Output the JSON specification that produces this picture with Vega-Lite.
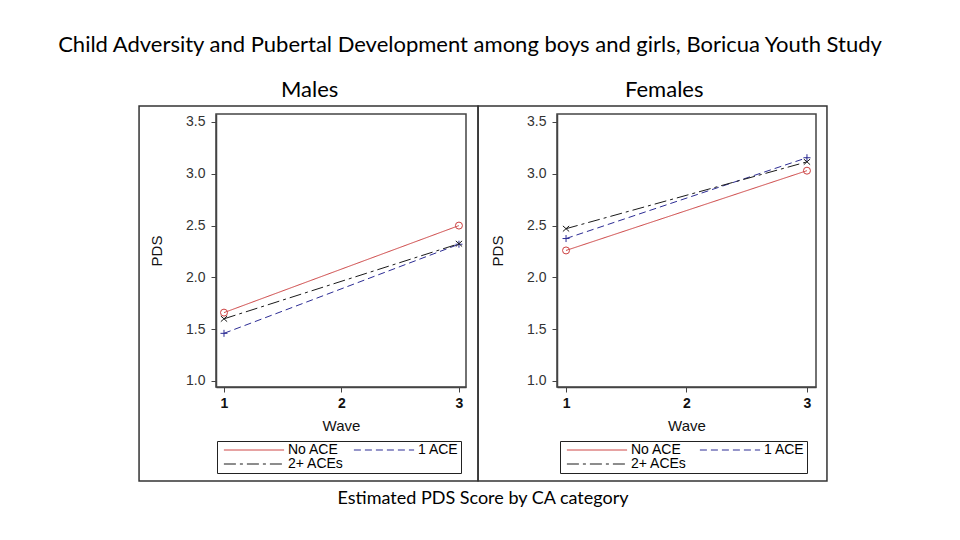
{
  "$schema": "https://vega.github.io/schema/vega-lite/v6.json",
  "background": "white",
  "padding": {"left": 57, "top": 33, "right": 5, "bottom": 5},
  "title": {"text": "Child Adversity and Pubertal Development among boys and girls, Boricua Youth Study", "anchor": "middle", "frame": "bounds", "dx": -13, "fontSize": 22, "offset": 22},
  "datasets": {
    "pds": [
      {"panel": "Males", "cat": "No ACE", "wave": 1, "pds": 1.66},
      {"panel": "Males", "cat": "No ACE", "wave": 3, "pds": 2.50},
      {"panel": "Males", "cat": "1 ACE", "wave": 1, "pds": 1.46},
      {"panel": "Males", "cat": "1 ACE", "wave": 3, "pds": 2.32},
      {"panel": "Males", "cat": "2+ ACEs", "wave": 1, "pds": 1.60},
      {"panel": "Males", "cat": "2+ ACEs", "wave": 3, "pds": 2.325},
      {"panel": "Females", "cat": "No ACE", "wave": 1, "pds": 2.26},
      {"panel": "Females", "cat": "No ACE", "wave": 3, "pds": 3.03},
      {"panel": "Females", "cat": "1 ACE", "wave": 1, "pds": 2.375},
      {"panel": "Females", "cat": "1 ACE", "wave": 3, "pds": 3.155},
      {"panel": "Females", "cat": "2+ ACEs", "wave": 1, "pds": 2.47},
      {"panel": "Females", "cat": "2+ ACEs", "wave": 3, "pds": 3.115}
    ]
  },
  "vconcat": [
    {
      "title": {"text": "Estimated PDS Score by CA category", "orient": "bottom", "anchor": "middle", "frame": "bounds", "fontSize": 18, "offset": 8},
      "bounds": "flush",
      "spacing": 91,
      "resolve": {"scale": {"color": "independent", "strokeDash": "independent"}, "legend": {"color": "independent", "strokeDash": "independent"}},
      "hconcat": [
        {
          "width": 250,
          "height": 273,
          "title": {"text": "Males", "anchor": "start", "frame": "group", "dx": 65, "offset": 3, "fontSize": 22},
          "data": {"name": "pds"},
          "transform": [{"filter": "datum.panel === 'Males'"}],
          "layer": [
            {
              "data": {"values": [{"panel": "Males"}]},
              "mark": {"type": "rect", "fill": "transparent", "stroke": "#333", "strokeWidth": 1.5},
              "encoding": {
                "x": {"datum": 0.277, "type": "quantitative", "title": "Wave"},
                "x2": {"datum": 3.162},
                "y": {"datum": 0.035, "type": "quantitative", "title": "PDS"},
                "y2": {"datum": 3.654}
              }
            },
            {
              "mark": {"type": "line", "strokeWidth": 1},
              "encoding": {
                "x": {"field": "wave", "type": "quantitative", "title": "Wave", "scale": {"domain": [0.932, 3.06], "nice": false, "zero": false}, "axis": {"values": [1, 2, 3], "format": "d"}},
                "y": {"field": "pds", "type": "quantitative", "title": "PDS", "scale": {"domain": [0.942, 3.577], "nice": false, "zero": false}, "axis": {"values": [1, 1.5, 2, 2.5, 3, 3.5], "format": ".1f"}},
                "color": {"field": "cat", "type": "nominal", "scale": {"domain": ["No ACE", "1 ACE", "2+ ACEs"], "range": ["#cc4040", "#2c2c94", "#1a1a1a"]},
                  "legend": {"orient": "none", "legendX": 1, "legendY": 327, "direction": "horizontal", "columns": 2, "title": null, "strokeColor": "#222", "fillColor": "#fff", "padding": 2, "rowPadding": 0, "columnPadding": 5, "symbolType": "M-8.6,0H8.6", "symbolSize": 49, "symbolOffset": 28, "labelOffset": 27, "labelFont": "Liberation Sans", "labelFontSize": 14, "labelColor": "#000", "symbolStrokeWidth": 1}},
                "strokeDash": {"field": "cat", "type": "nominal", "scale": {"domain": ["No ACE", "1 ACE", "2+ ACEs"], "range": [[1, 0], [7, 4], [12, 4, 3, 4]]},
                  "legend": {"orient": "none", "legendX": 1, "legendY": 327, "direction": "horizontal", "columns": 2, "title": null, "strokeColor": "#222", "fillColor": "#fff", "padding": 2, "rowPadding": 0, "columnPadding": 5, "symbolType": "M-8.6,0H8.6", "symbolSize": 49, "symbolOffset": 28, "labelOffset": 27, "labelFont": "Liberation Sans", "labelFontSize": 14, "labelColor": "#000", "symbolStrokeWidth": 1}}
              }
            },
            {
              "transform": [{"filter": "datum.cat === 'No ACE'"}],
              "mark": {"type": "point", "shape": "circle", "filled": false, "size": 49, "strokeWidth": 1, "opacity": 1, "color": "#cc4040"},
              "encoding": {"x": {"field": "wave", "type": "quantitative"}, "y": {"field": "pds", "type": "quantitative"}}
            },
            {
              "transform": [{"filter": "datum.cat === '1 ACE'"}],
              "mark": {"type": "point", "shape": "M-1,0H1M0,-1V1", "filled": false, "size": 49, "strokeWidth": 1, "opacity": 1, "color": "#2c2c94"},
              "encoding": {"x": {"field": "wave", "type": "quantitative"}, "y": {"field": "pds", "type": "quantitative"}}
            },
            {
              "transform": [{"filter": "datum.cat === '2+ ACEs'"}],
              "mark": {"type": "point", "shape": "M-0.9,-0.8L0.9,0.8M-0.9,0.8L0.9,-0.8", "filled": false, "size": 49, "strokeWidth": 1, "opacity": 1, "color": "#1a1a1a"},
              "encoding": {"x": {"field": "wave", "type": "quantitative"}, "y": {"field": "pds", "type": "quantitative"}}
            }
          ]
        },
        {
          "width": 259,
          "height": 273,
          "title": {"text": "Females", "anchor": "start", "frame": "group", "dx": 68, "offset": 3, "fontSize": 22},
          "data": {"name": "pds"},
          "transform": [{"filter": "datum.panel === 'Females'"}],
          "layer": [
            {
              "data": {"values": [{"panel": "Females"}]},
              "mark": {"type": "rect", "fill": "transparent", "stroke": "#333", "strokeWidth": 1.5},
              "encoding": {
                "x": {"datum": 0.270, "type": "quantitative", "title": "Wave"},
                "x2": {"datum": 3.166},
                "y": {"datum": 0.035, "type": "quantitative", "title": "PDS"},
                "y2": {"datum": 3.654}
              }
            },
            {
              "mark": {"type": "line", "strokeWidth": 1},
              "encoding": {
                "x": {"field": "wave", "type": "quantitative", "title": "Wave", "scale": {"domain": [0.925, 3.075], "nice": false, "zero": false}, "axis": {"values": [1, 2, 3], "format": "d"}},
                "y": {"field": "pds", "type": "quantitative", "title": "PDS", "scale": {"domain": [0.942, 3.577], "nice": false, "zero": false}, "axis": {"values": [1, 1.5, 2, 2.5, 3, 3.5], "format": ".1f"}},
                "color": {"field": "cat", "type": "nominal", "scale": {"domain": ["No ACE", "1 ACE", "2+ ACEs"], "range": ["#cc4040", "#2c2c94", "#1a1a1a"]},
                  "legend": {"orient": "none", "legendX": 3, "legendY": 327, "direction": "horizontal", "columns": 2, "title": null, "strokeColor": "#222", "fillColor": "#fff", "padding": 2, "rowPadding": 0, "columnPadding": 8, "symbolType": "M-8.6,0H8.6", "symbolSize": 49, "symbolOffset": 28, "labelOffset": 27, "labelFont": "Liberation Sans", "labelFontSize": 14, "labelColor": "#000", "symbolStrokeWidth": 1}},
                "strokeDash": {"field": "cat", "type": "nominal", "scale": {"domain": ["No ACE", "1 ACE", "2+ ACEs"], "range": [[1, 0], [7, 4], [12, 4, 3, 4]]},
                  "legend": {"orient": "none", "legendX": 3, "legendY": 327, "direction": "horizontal", "columns": 2, "title": null, "strokeColor": "#222", "fillColor": "#fff", "padding": 2, "rowPadding": 0, "columnPadding": 8, "symbolType": "M-8.6,0H8.6", "symbolSize": 49, "symbolOffset": 28, "labelOffset": 27, "labelFont": "Liberation Sans", "labelFontSize": 14, "labelColor": "#000", "symbolStrokeWidth": 1}}
              }
            },
            {
              "transform": [{"filter": "datum.cat === 'No ACE'"}],
              "mark": {"type": "point", "shape": "circle", "filled": false, "size": 49, "strokeWidth": 1, "opacity": 1, "color": "#cc4040"},
              "encoding": {"x": {"field": "wave", "type": "quantitative"}, "y": {"field": "pds", "type": "quantitative"}}
            },
            {
              "transform": [{"filter": "datum.cat === '1 ACE'"}],
              "mark": {"type": "point", "shape": "M-1,0H1M0,-1V1", "filled": false, "size": 49, "strokeWidth": 1, "opacity": 1, "color": "#2c2c94"},
              "encoding": {"x": {"field": "wave", "type": "quantitative"}, "y": {"field": "pds", "type": "quantitative"}}
            },
            {
              "transform": [{"filter": "datum.cat === '2+ ACEs'"}],
              "mark": {"type": "point", "shape": "M-0.9,-0.8L0.9,0.8M-0.9,0.8L0.9,-0.8", "filled": false, "size": 49, "strokeWidth": 1, "opacity": 1, "color": "#1a1a1a"},
              "encoding": {"x": {"field": "wave", "type": "quantitative"}, "y": {"field": "pds", "type": "quantitative"}}
            }
          ]
        }
      ]
    }
  ],
  "config": {
    "view": {"stroke": "#444", "strokeWidth": 1.5},
    "axis": {"domainColor": "#444", "domainWidth": 1.5, "tickColor": "#444", "tickSize": 5, "grid": false, "labelFont": "Liberation Sans", "labelFontSize": 14, "labelColor": "#333", "titleFont": "Liberation Sans", "titleFontSize": 15, "titleFontWeight": "normal", "titleColor": "#111"},
    "axisY": {"labelPadding": 6, "titlePadding": 21},
    "axisX": {"labelPadding": 4, "titlePadding": 8, "labelFontWeight": "bold", "labelColor": "#111"},
    "title": {"font": "Lato", "fontWeight": "normal", "color": "#000"}
  }
}
